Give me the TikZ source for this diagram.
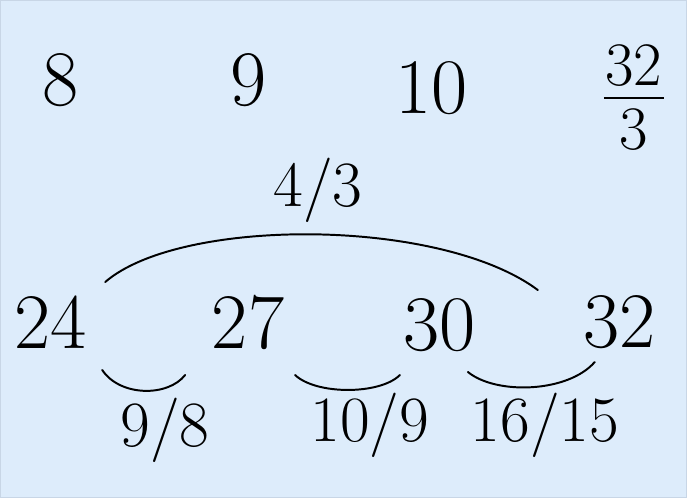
\documentclass[tikz,border=0pt]{standalone}
\usepackage{amsmath}
\usepackage{tikz}
\definecolor{paper}{RGB}{221,236,251}
\definecolor{rim}{RGB}{200,214,230}

\begin{document}
\begin{tikzpicture}[num/.style = {font=\fontsize{56}{60}\selectfont, inner sep=0pt},
                    ratio/.style = {font=\fontsize{46}{50}\selectfont, inner sep=0pt},
                    bow/.style = {line width=1.4pt, line cap=round}]
\fill[paper, draw=rim] (0,0) rectangle (17.175,12.425);
\useasboundingbox (0,0) rectangle (17.175,12.425);

% top row
\node[num] (8)  at (1.5,10.425)  {8};
\node[num] (9)  at (6.2,10.425)  {9};
\node[num] (10) at (10.8,10.225) {10};
\node[font=\fontsize{44}{40}\selectfont, inner sep=0pt] (32t) at (15.85,9.8)
  {\setlength{\arrayrulewidth}{1.4pt}\setlength{\tabcolsep}{1pt}%
   \begin{tabular}{c}32\\[-4pt]\hline\rule{0pt}{36pt}3\end{tabular}};

% scale
\node[num] (24) at (1.25,4.375) {24};
\node[num] (27) at (6.2,4.375)  {27};
\node[num] (30) at (11.0,4.3)   {30};
\node[num] (32) at (15.5,4.375) {32};

\coordinate (24a) at (2.625,5.375);
\coordinate (32a) at (13.45,5.175);
\coordinate (24b) at (2.55,3.175);
\coordinate (27a) at (4.625,3.05);
\coordinate (27b) at (7.375,3.05);
\coordinate (30a) at (10.0,3.05);
\coordinate (30b) at (11.7,3.125);
\coordinate (32b) at (14.875,3.375);

\draw[bow] (24a) .. controls (4.5,7.0) and (11,7.0) .. (32a);
\draw[bow] (24b) .. controls (3.0,2.5) and (4.2,2.5) .. (27a);
\draw[bow] (27b) .. controls (7.9,2.55) and (9.5,2.55) .. (30a);
\draw[bow] (30b) .. controls (12.4,2.55) and (14.2,2.6) .. (32b);

\node[ratio] (43)   at (7.95,7.675)  {4/3};
\node[ratio] (98)   at (4.125,1.675) {9/8};
\node[ratio] (109)  at (9.25,1.8)    {10/9};
\node[ratio] (1615) at (13.625,1.8)  {16/15};
\end{tikzpicture}
\end{document}
